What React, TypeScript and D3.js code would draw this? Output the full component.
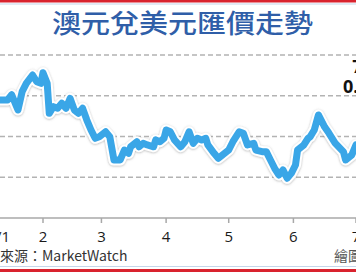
import React from "react";
import * as d3 from "d3";

const W = 356;
const H = 272;

const title = "澳元兌美元匯價走勢";
const sourceText = "來源：MarketWatch";
const creditText = "繪圖";
const lastDateLabel = "7/3";
const lastValueLabel = "0.668";

const dates = [
  "2023-01-11", "2023-01-15", "2023-01-17", "2023-01-19", "2023-01-20", "2023-01-22",
  "2023-01-24", "2023-01-27", "2023-01-29", "2023-01-31", "2023-02-01", "2023-02-03",
  "2023-02-04", "2023-02-06", "2023-02-08", "2023-02-10", "2023-02-12", "2023-02-14",
  "2023-02-16", "2023-02-18", "2023-02-20", "2023-02-22", "2023-02-24", "2023-02-26",
  "2023-02-28", "2023-03-03", "2023-03-05", "2023-03-07", "2023-03-10", "2023-03-12",
  "2023-03-14", "2023-03-15", "2023-03-18", "2023-03-19", "2023-03-21", "2023-03-23",
  "2023-03-26", "2023-03-27", "2023-03-29", "2023-03-31", "2023-04-01", "2023-04-03",
  "2023-04-05", "2023-04-08", "2023-04-10", "2023-04-12", "2023-04-14", "2023-04-16",
  "2023-04-18", "2023-04-20", "2023-04-21", "2023-04-24", "2023-04-26", "2023-04-28",
  "2023-05-01", "2023-05-03", "2023-05-06", "2023-05-08", "2023-05-10", "2023-05-13",
  "2023-05-14", "2023-05-17", "2023-05-19", "2023-05-21", "2023-05-23", "2023-05-25",
  "2023-05-27", "2023-05-29", "2023-05-31", "2023-06-02", "2023-06-03", "2023-06-06",
  "2023-06-08", "2023-06-09", "2023-06-11", "2023-06-13", "2023-06-16", "2023-06-18",
  "2023-06-21", "2023-06-25", "2023-06-26", "2023-06-29", "2023-07-01", "2023-07-03",
];

const values = [
  0.6974, 0.6974, 0.7006, 0.6943, 0.6913, 0.7025,
  0.7076, 0.7127, 0.7086, 0.7076, 0.7141, 0.7076,
  0.6892, 0.6933, 0.6923, 0.6954, 0.6923, 0.6984,
  0.6913, 0.6892, 0.6923, 0.6851, 0.679, 0.6739,
  0.6749, 0.6779, 0.6749, 0.6606, 0.6606, 0.6667,
  0.6647, 0.6687, 0.6718, 0.6687, 0.6708, 0.6698,
  0.6687, 0.6729, 0.6718, 0.6739, 0.679, 0.6779,
  0.6729, 0.6687, 0.6718, 0.6779, 0.6708, 0.6739,
  0.6729, 0.6739, 0.6698, 0.6647, 0.6616, 0.6637,
  0.6667, 0.6718, 0.6779, 0.677, 0.6698, 0.6708,
  0.6667, 0.6657, 0.6657, 0.6606, 0.6555, 0.6514,
  0.6545, 0.6494, 0.6524, 0.6575, 0.6667, 0.6698,
  0.6739, 0.6748, 0.679, 0.6882, 0.6808, 0.6771,
  0.671, 0.6655, 0.6606, 0.6637, 0.6698, 0.668,
];

const tickDates = ["2023-01-01", "2023-02-01", "2023-03-01", "2023-04-01", "2023-05-01", "2023-06-01", "2023-07-01"];
const tickLabels = ["2023/1", "2", "3", "4", "5", "6", "7"];
const gridValues = [0.725, 0.7, 0.675, 0.65];

const parse = d3.timeParse("%Y-%m-%d");

export default function App() {
  const x = d3
    .scaleTime()
    .domain([parse("2023-02-01") as Date, parse("2023-07-01") as Date])
    .range([43, 356]);
  const y = d3.scaleLinear().domain([0.625, 0.725]).range([218, 55]);

  const data = dates.map((d, i) => ({ d: parse(d) as Date, v: values[i] }));
  const line = d3
    .line<{ d: Date; v: number }>()
    .x((p) => x(p.d))
    .y((p) => y(p.v));
  const path = line(data) || "";
  const last = data[data.length - 1];
  const annX = x(last.d) + 6;

  const axisY = y(0.625);
  const tickX = tickDates.map((t) => x(parse(t) as Date));

  return (
    <div style={{ position: "absolute", left: 0, top: 0, width: W, height: H, overflow: "hidden" }}>
      <svg width={W} height={H} style={{ display: "block", background: "#ffffff" }}>
        <defs>
          <filter id="glow" x="-10%" y="-10%" width="120%" height="120%">
            <feDropShadow dx="0" dy="0.6" stdDeviation="0.9" floodColor="#7a7a7a" floodOpacity="0.55" />
          </filter>
        </defs>
        {/* frame lines */}
        <rect x={0} y={0} width={W} height={2.5} fill="#d9232e" />
        <rect x={0} y={3.5} width={W} height={1} fill="#c5d6ea" />
        <rect x={0} y={266} width={W} height={1} fill="#c5d6ea" />
        <rect x={0} y={269} width={W} height={3} fill="#d9232e" />

        {/* title */}
        <text
          x={182.5}
          y={33}
          textAnchor="middle"
          fill="#2f5ea8"
          fontFamily="'Noto Sans CJK TC', 'Noto Sans CJK SC', sans-serif"
          fontSize={26}
          fontWeight={500}
          textLength={261}
          lengthAdjust="spacingAndGlyphs"
        >
          {title}
        </text>

        {/* gridlines */}
        {gridValues.map((g) => (
          <line
            key={g}
            x1={0}
            x2={W}
            y1={y(g)}
            y2={y(g)}
            stroke="#b3b3b3"
            strokeWidth={1.4}
            strokeDasharray="5 3"
          />
        ))}

        {/* axis */}
        <line x1={0} x2={W} y1={axisY} y2={axisY} stroke="#a8a8a8" strokeWidth={1.5} />
        {tickX.map((tx, i) => (
          <line key={"t" + i} x1={tx} x2={tx} y1={axisY} y2={axisY + 5} stroke="#a8a8a8" strokeWidth={1.5} />
        ))}
        {tickLabels.map((lab, i) => (
          <text
            key={"l" + i}
            x={i === 0 ? tickX[1] - 33 : tickX[i]}
            y={242}
            textAnchor={i === 0 ? "end" : "middle"}
            fill="#1a1a1a"
            fontFamily="'Open Sans', 'DejaVu Sans', sans-serif"
            fontSize={15}
          >
            {lab}
          </text>
        ))}

        {/* line with halo */}
        <path
          d={path}
          fill="none"
          stroke="#ffffff"
          strokeWidth={11}
          strokeLinejoin="round"
          strokeLinecap="round"
          filter="url(#glow)"
        />
        <path d={path} fill="none" stroke="#3aa6e7" strokeWidth={7} strokeLinejoin="round" strokeLinecap="round" />

        {/* last value annotation */}
        <text
          x={annX}
          y={73}
          textAnchor="middle"
          fill="#111"
          fontFamily="'Open Sans', 'DejaVu Sans', sans-serif"
          fontSize={18}
          fontWeight={700}
        >
          {lastDateLabel}
        </text>
        <text
          x={annX}
          y={93}
          textAnchor="middle"
          fill="#111"
          fontFamily="'Open Sans', 'DejaVu Sans', sans-serif"
          fontSize={18}
          fontWeight={700}
        >
          {lastValueLabel}
        </text>

        {/* footer */}
        <text
          x={0}
          y={261}
          fill="#333"
          fontFamily="'Noto Sans CJK TC', 'Open Sans', sans-serif"
          fontSize={14}
        >
          {sourceText}
        </text>
        <text
          x={334}
          y={261}
          fill="#555"
          fontFamily="'Noto Sans CJK TC', sans-serif"
          fontSize={14}
        >
          {creditText}
        </text>
      </svg>
    </div>
  );
}
